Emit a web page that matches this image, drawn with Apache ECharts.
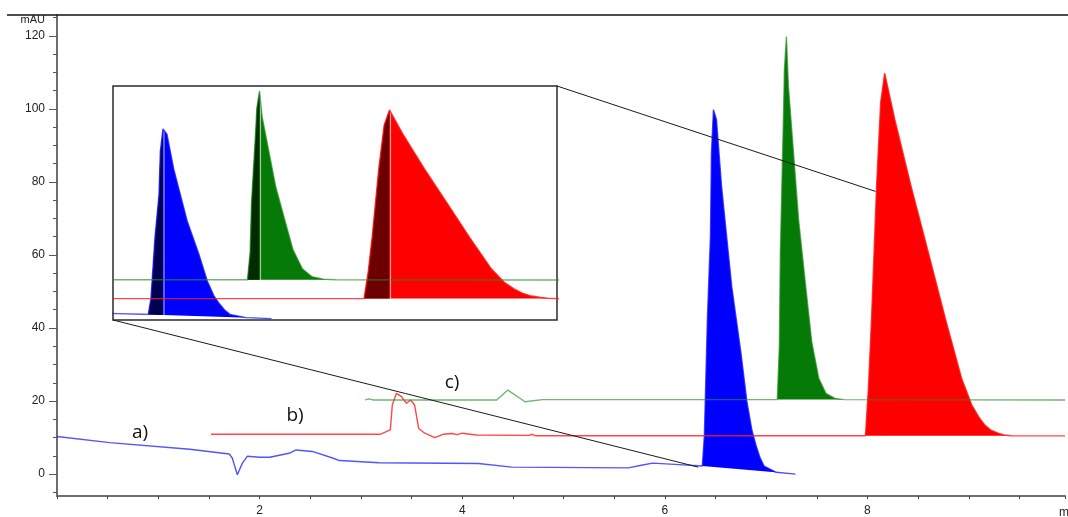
<!DOCTYPE html>
<html>
<head>
<meta charset="utf-8">
<script src="https://cdn.jsdelivr.net/npm/echarts@6/dist/echarts.min.js"></script>
<style>
  html, body { margin: 0; padding: 0; background: #fff; }
  #chart { width: 1068px; height: 517px; }
</style>
</head>
<body>
<div id="chart"></div>
<script>
// Chromatogram traces, [time (min), absorbance (mAU)]
const BLUE_TRACE = [
  [0, 10.3], [0.52, 8.6], [1.31, 6.8], [1.70, 5.5], [1.73, 4.4], [1.78, -0.2], [1.83, 3.0],
  [1.88, 4.9], [2.00, 4.6], [2.10, 4.6], [2.29, 5.7], [2.36, 6.6], [2.52, 6.2], [2.72, 4.4],
  [2.79, 3.7], [3.18, 3.1], [4.16, 2.9], [4.49, 1.9], [5.64, 1.7], [5.78, 2.5], [5.88, 3.0],
  [6.14, 2.6], [6.33, 2.3],
  [6.37, 2.2], [6.39, 10.6], [6.42, 42.5], [6.45, 65.2], [6.46, 88.0], [6.48, 99.8],
  [6.51, 97.0], [6.56, 78.8], [6.66, 51.5], [6.75, 33.5], [6.81, 19.9], [6.86, 12.0],
  [6.90, 7.9], [6.94, 4.5], [6.98, 2.2], [7.10, 0.5], [7.29, 0.0]
];
const RED_TRACE = [
  [1.52, 10.9], [3.19, 10.9], [3.29, 12.1], [3.31, 18.9], [3.35, 22.1], [3.40, 21.2],
  [3.45, 19.4], [3.49, 20.3], [3.53, 18.9], [3.57, 12.5], [3.63, 11.2], [3.73, 10.0],
  [3.81, 10.9], [3.90, 11.1], [3.95, 10.8], [4.00, 11.2], [4.14, 10.7], [4.66, 10.6],
  [4.69, 10.9], [4.72, 10.5], [6.00, 10.5],
  [7.98, 10.5], [8.01, 24.0], [8.04, 42.5], [8.09, 78.9], [8.13, 101.7], [8.17, 109.8],
  [8.27, 97.1], [8.43, 78.9], [8.60, 60.8], [8.77, 42.5], [8.93, 26.2], [9.03, 18.9],
  [9.10, 15.6], [9.16, 13.4], [9.22, 12.0], [9.29, 11.2], [9.35, 10.7], [9.42, 10.5],
  [9.95, 10.45]
];
const GREEN_TRACE = [
  [3.04, 20.3], [3.08, 20.6], [3.12, 20.3], [4.34, 20.3], [4.45, 23.0], [4.62, 19.8],
  [4.79, 20.4], [7.11, 20.4],
  [7.13, 35.0], [7.14, 60.7], [7.17, 97.1], [7.18, 110.7], [7.20, 119.8], [7.22, 106.2],
  [7.27, 88.1], [7.32, 69.8], [7.39, 51.6], [7.45, 36.3], [7.52, 26.2], [7.59, 22.1],
  [7.68, 20.7], [7.77, 20.4], [9.95, 20.3]
];

// Integrated peak windows (start, end) in minutes
const BLUE_PEAK = [6.37, 7.29];
const GREEN_PEAK = [7.11, 7.77];
const RED_PEAK = [7.98, 9.42];

// Axis ticks
const Y_MAJOR = [0, 20, 40, 60, 80, 100, 120];
const Y_MINOR = [-5, 0, 5, 10, 15, 20, 25, 30, 35, 40, 45, 50, 55, 60, 65, 70, 75, 80, 85, 90, 95, 100, 105, 110, 115, 120, 125];
const X_LABELS = [2, 4, 6, 8];

// Trace labels
const TRACE_NAMES = ['a)', 'b)', 'c)'];

// Magnified window: main-plot corners linked to the inset
const ZOOM_LOW = [6.33, 1.9];
const ZOOM_HIGH = [8.08, 77.4];

const PEAKS = [
  { trace: BLUE_TRACE, span: BLUE_PEAK, fill: '#0000ff', front: '#000052' },
  { trace: GREEN_TRACE, span: GREEN_PEAK, fill: '#067a06', front: '#002c00' },
  { trace: RED_TRACE, span: RED_PEAK, fill: '#ff0000', front: '#6c0000' }
];

const LINE_COLORS = {
  blue: 'rgba(25,25,255,0.75)',
  red: 'rgba(255,25,25,0.8)',
  green: 'rgba(40,140,40,0.65)'
};

const FONT = '"Liberation Sans", Arial, sans-serif';

function peakRenderer(withFront) {
  return function (params, api) {
    const p = PEAKS[api.value(2)];
    const pts = p.trace.filter(d => d[0] >= p.span[0] && d[0] <= p.span[1]);
    const children = [{
      type: 'polygon',
      shape: { points: pts.map(d => api.coord(d)) },
      style: { fill: p.fill }
    }];
    if (withFront) {
      let ai = 0;
      pts.forEach((d, i) => { if (d[1] > pts[ai][1]) ai = i; });
      const apex = pts[ai];
      const a = pts[0], b = pts[pts.length - 1];
      const base = a[1] + (b[1] - a[1]) * (apex[0] - a[0]) / (b[0] - a[0]);
      const front = pts.slice(0, ai + 1).concat([[apex[0], base]]);
      children.push({
        type: 'polygon',
        shape: { points: front.map(d => api.coord(d)) },
        style: { fill: p.front }
      });
      const top = api.coord(apex), bot = api.coord([apex[0], base]);
      children.push({
        type: 'line',
        shape: { x1: top[0] + 1, y1: top[1], x2: bot[0] + 1, y2: bot[1] },
        style: { stroke: 'rgba(255,255,255,0.6)', lineWidth: 1.2 }
      });
    }
    return { type: 'group', children };
  };
}

function peakData() {
  return PEAKS.map((p, i) => {
    const pts = p.trace.filter(d => d[0] >= p.span[0] && d[0] <= p.span[1]);
    const apex = pts.reduce((m, d) => (d[1] > m[1] ? d : m), pts[0]);
    return [apex[0], apex[1], i];
  });
}

function traceSeries(xi, yi, z) {
  return [
    ['blue', BLUE_TRACE], ['red', RED_TRACE], ['green', GREEN_TRACE]
  ].map(([k, data]) => ({
    type: 'line',
    xAxisIndex: xi,
    yAxisIndex: yi,
    data: data,
    showSymbol: false,
    symbol: 'none',
    clip: true,
    z: z,
    lineStyle: { color: LINE_COLORS[k], width: 1.4 },
    silent: true
  }));
}

const chart = echarts.init(document.getElementById('chart'), null, { renderer: 'canvas' });

chart.setOption({
  animation: false,
  backgroundColor: '#ffffff',
  grid: [
    { left: 57, right: 0, top: 15, bottom: 19, containLabel: false },
    { left: 113, top: 86, width: 444, height: 234, show: true,
      backgroundColor: '#ffffff', borderColor: '#2a2a2a', borderWidth: 1.5, z: 5 }
  ],
  xAxis: [
    {
      type: 'value', gridIndex: 0, min: 0, max: 9.95, interval: 0.5,
      axisLine: { show: true, onZero: false, lineStyle: { color: '#6e6e6e', width: 2 } },
      axisTick: { show: true, length: 3, lineStyle: { color: '#444', width: 1 } },
      axisLabel: {
        margin: 9, color: '#222', fontSize: 12, fontFamily: FONT,
        formatter: v => (X_LABELS.indexOf(v) >= 0 ? String(v) : '')
      },
      splitLine: { show: false }
    },
    {
      type: 'value', gridIndex: 1, min: 6.107, max: 9.42, show: false,
      axisLine: { onZero: false },
      splitLine: { show: false }
    }
  ],
  yAxis: [
    {
      type: 'value', gridIndex: 0, min: -6, max: 125.7,
      axisLine: { show: true, onZero: false, lineStyle: { color: '#6e6e6e', width: 2 } },
      axisTick: { show: true, length: 8, customValues: Y_MAJOR, lineStyle: { color: '#555', width: 1 } },
      axisLabel: { customValues: Y_MAJOR, margin: 12, color: '#222', fontSize: 12, fontFamily: FONT },
      splitLine: { show: false }
    },
    {
      type: 'value', gridIndex: 0, min: -6, max: 125.7, position: 'left',
      axisLine: { show: false, onZero: false },
      axisTick: { show: true, length: 4, customValues: Y_MINOR, lineStyle: { color: '#555', width: 1 } },
      axisLabel: { show: false },
      splitLine: { show: false }
    },
    {
      type: 'value', gridIndex: 1, min: -0.75, max: 122.4, show: false,
      splitLine: { show: false }
    }
  ],
  series: [
    {
      type: 'custom', xAxisIndex: 0, yAxisIndex: 0, z: 2, silent: true, clip: true,
      renderItem: peakRenderer(false), data: peakData()
    },
    ...traceSeries(0, 0, 3),
    {
      type: 'custom', xAxisIndex: 1, yAxisIndex: 2, z: 6, silent: true, clip: true,
      renderItem: peakRenderer(true), data: peakData()
    },
    ...traceSeries(1, 2, 7)
  ]
});

// Connector lines between the magnified window and the inset, plus annotations
const insetLow = chart.convertToPixel({ xAxisIndex: 1, yAxisIndex: 2 }, [6.107, -0.75]);
const insetHigh = chart.convertToPixel({ xAxisIndex: 1, yAxisIndex: 2 }, [9.42, 122.4]);
const mainLow = chart.convertToPixel({ xAxisIndex: 0, yAxisIndex: 0 }, ZOOM_LOW);
const mainHigh = chart.convertToPixel({ xAxisIndex: 0, yAxisIndex: 0 }, ZOOM_HIGH);

const labelFont = '19px "Open Sans", "Liberation Sans", sans-serif';

chart.setOption({
  graphic: [
    { type: 'line', z: 20, shape: { x1: 7, y1: 15, x2: 1068, y2: 15 },
      style: { stroke: '#111', lineWidth: 1.6 } },
    { type: 'line', z: 20, shape: { x1: insetHigh[0], y1: insetHigh[1], x2: mainHigh[0], y2: mainHigh[1] },
      style: { stroke: '#1a1a1a', lineWidth: 1 } },
    { type: 'line', z: 20, shape: { x1: insetLow[0], y1: insetLow[1], x2: mainLow[0], y2: mainLow[1] },
      style: { stroke: '#1a1a1a', lineWidth: 1 } },
    { type: 'text', z: 20, x: 45, y: 20,
      style: { text: 'mAU', font: '11px ' + FONT, fill: '#222', align: 'right', verticalAlign: 'middle' } },
    { type: 'text', z: 20, x: 1059, y: 513,
      style: { text: 'min', font: '12px ' + FONT, fill: '#222', align: 'left', verticalAlign: 'middle' } },
    { type: 'text', z: 20, x: 140, y: 433,
      style: { text: TRACE_NAMES[0], font: labelFont, fill: '#111', align: 'center', verticalAlign: 'middle' } },
    { type: 'text', z: 20, x: 295, y: 416,
      style: { text: TRACE_NAMES[1], font: labelFont, fill: '#111', align: 'center', verticalAlign: 'middle' } },
    { type: 'text', z: 20, x: 452, y: 383,
      style: { text: TRACE_NAMES[2], font: labelFont, fill: '#111', align: 'center', verticalAlign: 'middle' } }
  ]
});
</script>
</body>
</html>
